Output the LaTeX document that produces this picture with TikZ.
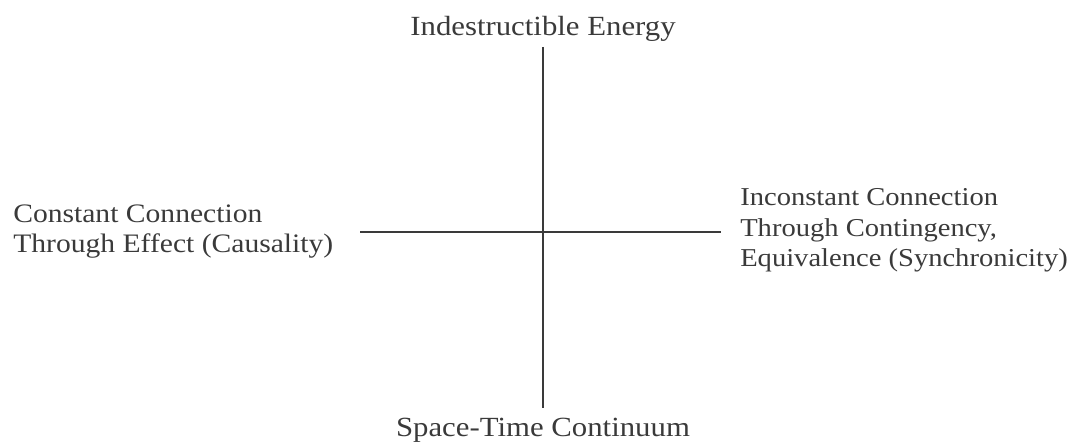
\documentclass[tikz,border=0pt]{standalone}
\usepackage{fontspec}
\setmainfont[FakeStretch=1.11]{Liberation Serif}
\definecolor{ink}{HTML}{3A3A3A}
\begin{document}
\begin{tikzpicture}[x=0.75pt,y=-0.75pt,
  lab/.style={inner sep=0pt,font=\fontsize{20}{23}\selectfont,text=ink},
  axis/.style={draw=ink,line width=1.4pt}]
\useasboundingbox (0,0) rectangle (1078,445);
\node[lab,anchor=base,font=\fontsize{20.8}{23}\selectfont] (top) at (543,36) {Indestructible Energy};
\node[lab,anchor=base,font=\fontsize{20.8}{23}\selectfont] (bot) at (543,436) {Space-Time Continuum};
\node[lab,anchor=base west,align=left] (left) at (13,253) {Constant Connection\\Through Effect (Causality)};
\node[lab,anchor=base west,align=left,font=\fontsize{19.3}{23}\selectfont] (right) at (740,267) {Inconstant Connection\\Through Contingency,\\Equivalence (Synchronicity)};
\coordinate (t) at (543,47);
\coordinate (b) at (543,408);
\coordinate (l) at (360,232);
\coordinate (r) at (721,232);
\draw[axis] (t) -- (b);
\draw[axis] (l) -- (r);
\end{tikzpicture}
\end{document}
